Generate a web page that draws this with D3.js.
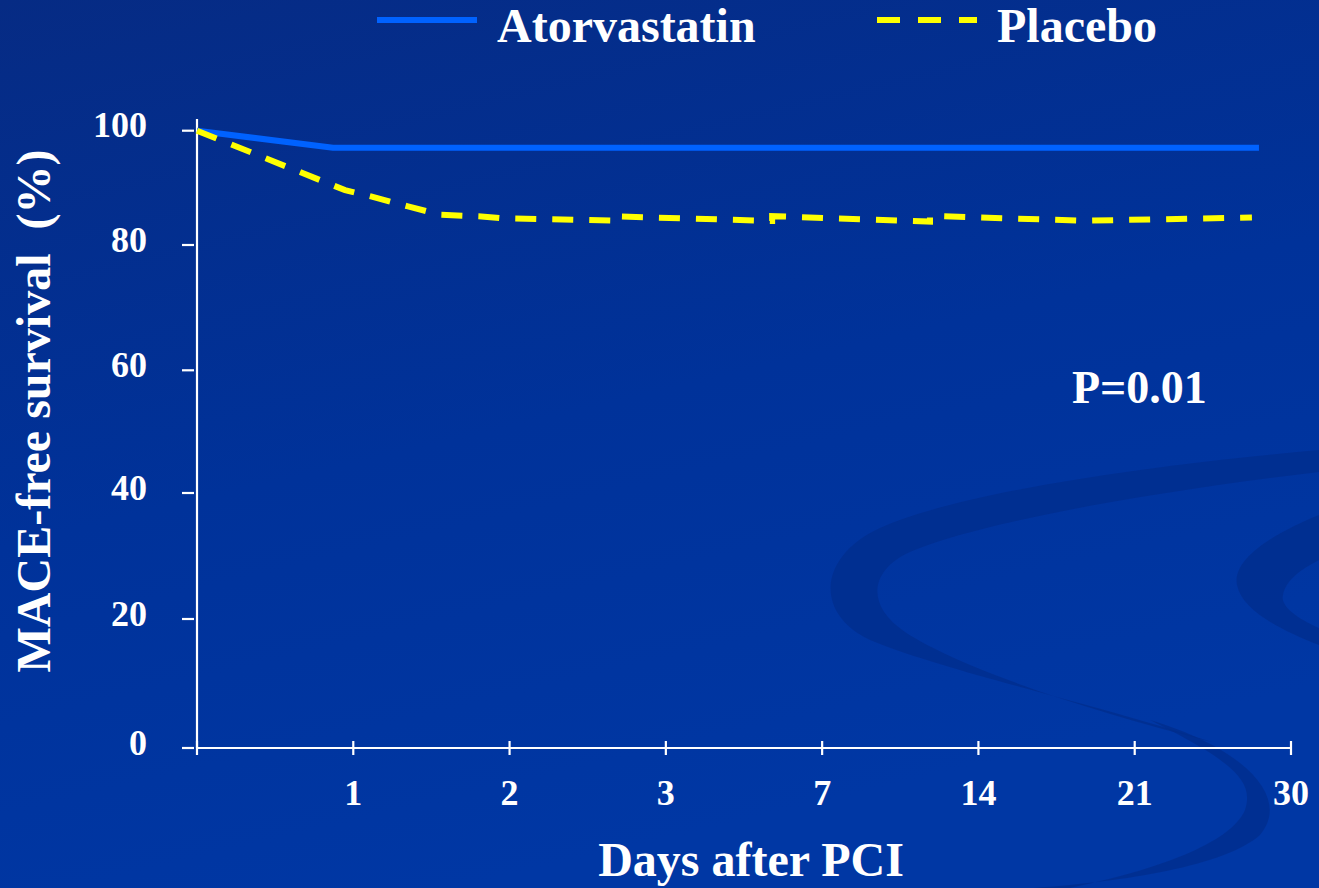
<!DOCTYPE html>
<html>
<head>
<meta charset="utf-8">
<script src="https://cdn.jsdelivr.net/npm/d3@7"></script>
<style>
  html, body { margin: 0; padding: 0; background: #0033a0; }
  svg { display: block; }
  text { font-family: "Liberation Serif", "Times New Roman", serif; font-weight: bold; fill: #ffffff; }
</style>
</head>
<body>
<svg id="chart" width="1319" height="888"></svg>
<script>
// Category labels along the x axis (days after PCI)
const xLabels = ["1", "2", "3", "7", "14", "21", "30"];
// y-axis tick values (%)
const yTicks = [0, 20, 40, 60, 80, 100];

// Atorvastatin: position along the x axis (tick units) and MACE-free survival (%)
const atorX = [0, 0.87, 6.795];
const atorY = [100, 97.0, 97.0];

// Placebo: position along the x axis (tick units) and MACE-free survival (%)
const placeboX = [0, 0.947, 1.113, 1.344, 1.555, 1.82, 1.94, 2.69, 2.69, 3.68, 3.68, 4.69, 4.69, 5.67, 6.75];
const placeboY = [100, 89.6, 88.5, 86.8, 85.3, 85.0, 84.7, 84.25, 85.0, 84.2, 85.05, 84.1, 85.1, 84.25, 84.8];

const seriesNames = ["Atorvastatin", "Placebo"];
const seriesColors = ["#0062ff", "#ffff00"];
const pValueText = "P=0.01";
const xTitle = "Days after PCI";
const yTitle = "MACE-free survival  (%)";

const W = 1319, H = 888;
const svg = d3.select("#chart");
const defs = svg.append("defs");

// ---- background: deep blue gradient with soft swooshes ----
const grad = defs.append("linearGradient")
  .attr("id", "bg").attr("x1", "0").attr("y1", "0").attr("x2", "0.35").attr("y2", "1");
grad.append("stop").attr("offset", "0").attr("stop-color", "#062b84");
grad.append("stop").attr("offset", "0.55").attr("stop-color", "#00329a");
grad.append("stop").attr("offset", "1").attr("stop-color", "#0037a4");
svg.append("rect").attr("width", W).attr("height", H).attr("fill", "url(#bg)");

const deco = svg.append("g").attr("fill", "#002d8c").attr("fill-opacity", 0.75);
deco.append("path").attr("d",
  "M1319,450 C1150,465 960,492 880,528 C815,558 815,618 875,642 " +
  "C950,672 1080,700 1212,742 C1080,708 960,668 905,632 " +
  "C865,605 870,570 910,552 C980,522 1150,492 1319,472 Z");
deco.append("path").attr("d",
  "M1150,720 C1250,750 1290,800 1260,835 C1220,870 1100,885 1000,890 " +
  "L1060,890 C1150,872 1230,845 1245,810 C1255,780 1230,760 1150,720 Z");
deco.append("path").attr("d",
  "M1319,515 C1270,535 1232,560 1237,585 C1242,610 1280,630 1319,645 " +
  "L1319,628 C1295,618 1280,605 1283,595 C1286,580 1300,570 1319,560 Z");

// ---- scales ----
const x = d3.scaleLinear().domain([0, xLabels.length]).range([197, 1291]);
const y = d3.scaleLinear().domain(yTicks).range([748, 619, 493, 370.3, 245, 130.7]);

// ---- axes ----
const axisColor = "#ffffff";
const axes = svg.append("g").attr("stroke", axisColor).attr("stroke-width", 2.2);

// y axis line
axes.append("line")
  .attr("x1", x(0)).attr("x2", x(0))
  .attr("y1", 119).attr("y2", y(0));
// y ticks
axes.selectAll(".ytick").data(yTicks).join("line")
  .attr("x1", x(0) - 15).attr("x2", x(0) - 3)
  .attr("y1", d => y(d)).attr("y2", d => y(d));
svg.selectAll(".ylab").data(yTicks).join("text")
  .attr("x", 147).attr("y", d => y(d) - 6)
  .attr("dy", "0.35em")
  .attr("text-anchor", "end")
  .attr("font-size", 36)
  .text(d => d);

// x axis line
axes.append("line")
  .attr("x1", x(0)).attr("x2", x(xLabels.length))
  .attr("y1", y(0)).attr("y2", y(0));
// x ticks cross the axis
const xTickPos = d3.range(0, xLabels.length + 1);
axes.selectAll(".xtick").data(xTickPos).join("line")
  .attr("x1", d => x(d)).attr("x2", d => x(d))
  .attr("y1", y(0) - 7).attr("y2", y(0) + 7);
svg.selectAll(".xlab").data(xLabels).join("text")
  .attr("x", (d, i) => x(i + 1))
  .attr("y", 805)
  .attr("text-anchor", "middle")
  .attr("font-size", 36)
  .text(d => d);

// axis titles
svg.append("text")
  .attr("x", 751).attr("y", 876)
  .attr("text-anchor", "middle")
  .attr("font-size", 48)
  .text(xTitle);
svg.append("text")
  .attr("transform", "translate(50,411) rotate(-90)")
  .attr("text-anchor", "middle")
  .attr("font-size", 48)
  .style("white-space", "pre")
  .text(yTitle);

// ---- survival curves ----
const line = d3.line().x(d => x(d[0])).y(d => y(d[1]));
const atorData = atorX.map((v, i) => [v, atorY[i]]);
const placeboData = placeboX.map((v, i) => [v, placeboY[i]]);

svg.append("path")
  .datum(atorData)
  .attr("d", line)
  .attr("fill", "none")
  .attr("stroke", seriesColors[0])
  .attr("stroke-width", 6);

svg.append("path")
  .datum(placeboData)
  .attr("d", line)
  .attr("fill", "none")
  .attr("stroke", seriesColors[1])
  .attr("stroke-width", 6)
  .attr("stroke-dasharray", "21,16");

// ---- p value ----
svg.append("text")
  .attr("x", 1072).attr("y", 403)
  .attr("font-size", 46)
  .text(pValueText);

// ---- legend ----
const legend = svg.append("g");
const legendItems = [
  { name: seriesNames[0], color: seriesColors[0], dash: null, x0: 377, tx: 497 },
  { name: seriesNames[1], color: seriesColors[1], dash: "23,18", x0: 877, tx: 997 }
];
legendItems.forEach(it => {
  legend.append("line")
    .attr("x1", it.x0).attr("x2", it.x0 + 100)
    .attr("y1", 20).attr("y2", 20)
    .attr("stroke", it.color)
    .attr("stroke-width", 6)
    .attr("stroke-dasharray", it.dash);
  legend.append("text")
    .attr("x", it.tx).attr("y", 42)
    .attr("font-size", 48)
    .text(it.name);
});
</script>
</body>
</html>
